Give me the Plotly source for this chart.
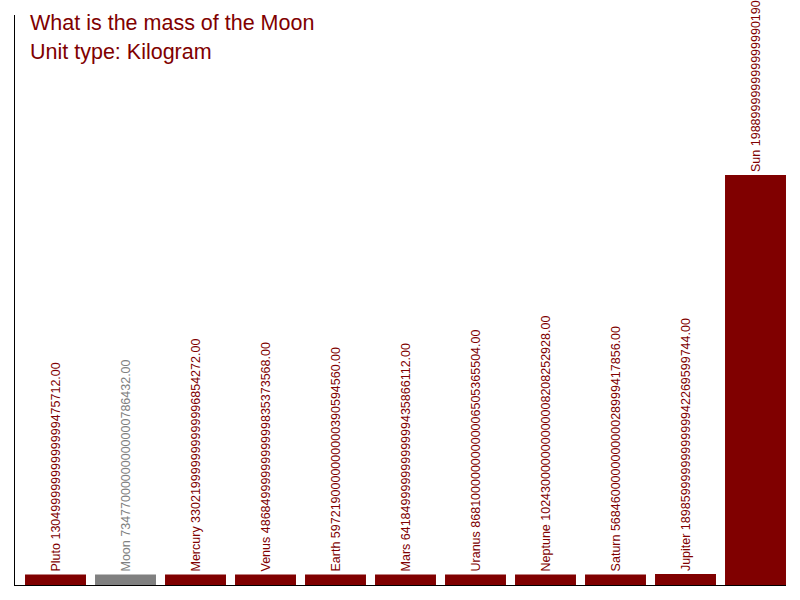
import plotly.graph_objects as go

bodies = ["Pluto", "Moon", "Mercury", "Venus", "Earth", "Mars", "Uranus",
          "Neptune", "Saturn", "Jupiter", "Sun"]
# masses in kg, as printed on the chart
masses_kg = [1.305e22, 7.3477e22, 3.3022e23, 4.8685e24, 5.97219e24, 6.4185e25,
             8.6810e25, 1.0243e26, 5.6846e26, 1.8986e27, 1.989e30]
highlight = "Moon"
title_lines = ["What is the mass of the Moon", "Unit type: Kilogram"]

MAROON = "#800000"
GRAY = "#808080"

peak = max(masses_kg)
stub = peak * 10.5 / 399.5       # minimum visible bar height
top = peak * 559.5 / 399.5

colors = [GRAY if b == highlight else MAROON for b in bodies]
labels = [f"{b} {m:.2f}" for b, m in zip(bodies, masses_kg)]

fig = go.Figure(go.Bar(
    x=list(range(len(bodies))),
    y=[v + stub for v in masses_kg],
    base=-stub,
    marker=dict(color=colors, line=dict(width=0)),
    text=labels,
    textposition="outside",
    textangle=-90,
    constraintext="none",
    textfont=dict(family="Liberation Sans, Arial", size=12.5, color=colors),
    cliponaxis=False,
    hovertext=bodies,
))

fig.update_layout(
    width=800, height=600,
    margin=dict(l=15, r=14, t=15, b=15),
    paper_bgcolor="white", plot_bgcolor="white",
    bargap=0.129,
    showlegend=False,
    font=dict(family="Liberation Sans, Arial"),
    xaxis=dict(range=[-40.5 / 70, 730.5 / 70], showticklabels=False, ticks="",
               showgrid=False, zeroline=False, showline=True,
               linecolor="black", linewidth=1),
    yaxis=dict(range=[-stub, top], showticklabels=False, ticks="",
               showgrid=False, zeroline=False, showline=True,
               linecolor="black", linewidth=1),
)

for i, (line, yc) in enumerate(zip(title_lines, [22.5, 52.5])):
    fig.add_annotation(
        text=line, xref="paper", yref="paper",
        x=(28 - 15) / 771, y=(585 - yc) / 570,
        xanchor="left", yanchor="middle", showarrow=False,
        font=dict(family="Liberation Sans, Arial", size=21.5, color=MAROON),
    )

fig.write_html("out.html", config={"displayModeBar": False},
               post_script="document.body.style.margin='0';document.body.style.overflow='hidden';")
